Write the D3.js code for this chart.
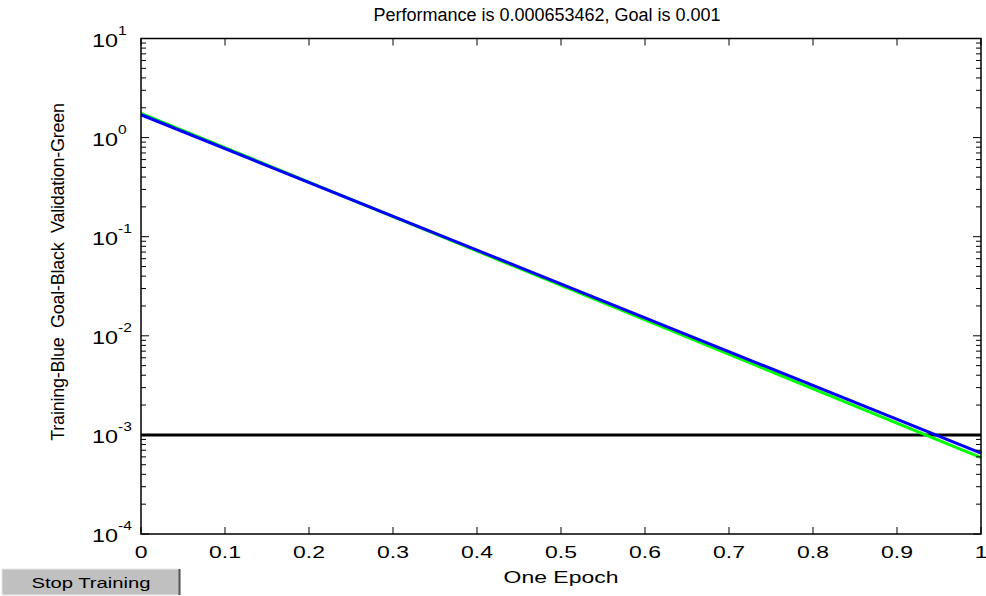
<!DOCTYPE html>
<html>
<head>
<meta charset="utf-8">
<script src="https://d3js.org/d3.v7.min.js"></script>
<style>
  body { margin: 0; background: #fff; }
  svg { display: block; font-family: "Liberation Sans", Arial, sans-serif; }
</style>
</head>
<body>
<svg width="986" height="596"></svg>
<script>
// data
var epochs = [0, 1];
var training = [1.70, 0.000653462];
var validation = [1.76, 0.00059];
var goal = [0.001, 0.001];
var xTicks = [0, 0.1, 0.2, 0.3, 0.4, 0.5, 0.6, 0.7, 0.8, 0.9, 1];
var yExps = [-4, -3, -2, -1, 0, 1];

var svg = d3.select('svg');
var pLeft = 141, pRight = 981, pTop = 38.5, pBottom = 534;

var x = d3.scaleLinear().domain([0, 1]).range([pLeft, pRight]);
var y = d3.scaleLog().domain([1e-4, 10]).range([pBottom, pTop]);

// lines
var line = d3.line()
   .x(function (d, i) { return x(epochs[i]); })
   .y(function (d) { return y(d); });

svg.append('path').datum(goal)
   .attr('d', line).attr('fill', 'none').attr('stroke', '#000').attr('stroke-width', 3);
svg.append('path').datum(validation)
   .attr('d', line).attr('fill', 'none').attr('stroke', '#00ff00').attr('stroke-width', 3);
svg.append('path').datum(training)
   .attr('d', line).attr('fill', 'none').attr('stroke', '#0000ff').attr('stroke-width', 3);

// frame
svg.append('rect')
   .attr('x', pLeft).attr('y', pTop)
   .attr('width', pRight - pLeft).attr('height', pBottom - pTop)
   .attr('fill', 'none').attr('stroke', '#000').attr('stroke-width', 1.5);

// x ticks (inward, bottom and top)
var xt = svg.append('g').attr('stroke', '#000').attr('stroke-width', 1);
xTicks.forEach(function (d) {
    xt.append('line').attr('x1', x(d)).attr('x2', x(d)).attr('y1', pBottom).attr('y2', pBottom - 7);
    xt.append('line').attr('x1', x(d)).attr('x2', x(d)).attr('y1', pTop).attr('y2', pTop + 7);
});

svg.selectAll('.xlab')
   .data(xTicks)
   .enter()
   .append('text')
   .attr('transform', function (d) { return 'translate(' + x(d) + ',558) scale(1.35,1)'; })
   .attr('text-anchor', 'middle')
   .attr('font-size', 17)
   .text(function (d) { return d; });

// y ticks: major + minor on both sides
var yt = svg.append('g').attr('stroke', '#000').attr('stroke-width', 1);
yExps.forEach(function (e) {
    var v = Math.pow(10, e);
    yt.append('line').attr('x1', pLeft).attr('x2', pLeft + 8).attr('y1', y(v)).attr('y2', y(v));
    yt.append('line').attr('x1', pRight).attr('x2', pRight - 8).attr('y1', y(v)).attr('y2', y(v));
    if (e < 1) {
        for (var m = 2; m <= 9; m++) {
            var mv = m * v;
            yt.append('line').attr('x1', pLeft).attr('x2', pLeft + 5).attr('y1', y(mv)).attr('y2', y(mv));
            yt.append('line').attr('x1', pRight).attr('x2', pRight - 5).attr('y1', y(mv)).attr('y2', y(mv));
        }
    }
});

var ylab = svg.selectAll('.ylab')
   .data(yExps)
   .enter()
   .append('text')
   .attr('transform', function (d) { return 'translate(92,' + (y(Math.pow(10, d)) + 8) + ') scale(1.3,1)'; })
   .attr('font-size', 18);
ylab.append('tspan').text('10');
ylab.append('tspan')
   .attr('dy', -12)
   .attr('font-size', 12)
   .text(function (d) { return d; });

// titles
svg.append('text')
   .attr('x', 547).attr('y', 21)
   .attr('text-anchor', 'middle').attr('font-size', 18)
   .text('Performance is 0.000653462, Goal is 0.001');

svg.append('text')
   .attr('transform', 'translate(' + (pLeft + pRight) / 2 + ',583) scale(1.35,1)')
   .attr('text-anchor', 'middle').attr('font-size', 17)
   .text('One Epoch');

svg.append('text')
   .attr('transform', 'translate(64,272) rotate(-90)')
   .attr('text-anchor', 'middle').attr('font-size', 18)
   .attr('letter-spacing', -0.25)
   .style('white-space', 'pre')
   .text('Training-Blue  Goal-Black  Validation-Green');

// stop button
var btn = svg.append('g');
btn.append('rect').attr('x', 2).attr('y', 569).attr('width', 178).attr('height', 26)
   .attr('fill', '#c0c0c0').attr('stroke', '#e8e8e8').attr('stroke-width', 1);
btn.append('line').attr('x1', 179.5).attr('x2', 179.5).attr('y1', 569).attr('y2', 595)
   .attr('stroke', '#555').attr('stroke-width', 2);
btn.append('text').attr('transform', 'translate(91,588) scale(1.35,1)')
   .attr('text-anchor', 'middle').attr('font-size', 15)
   .text('Stop Training');
</script>
</body>
</html>
